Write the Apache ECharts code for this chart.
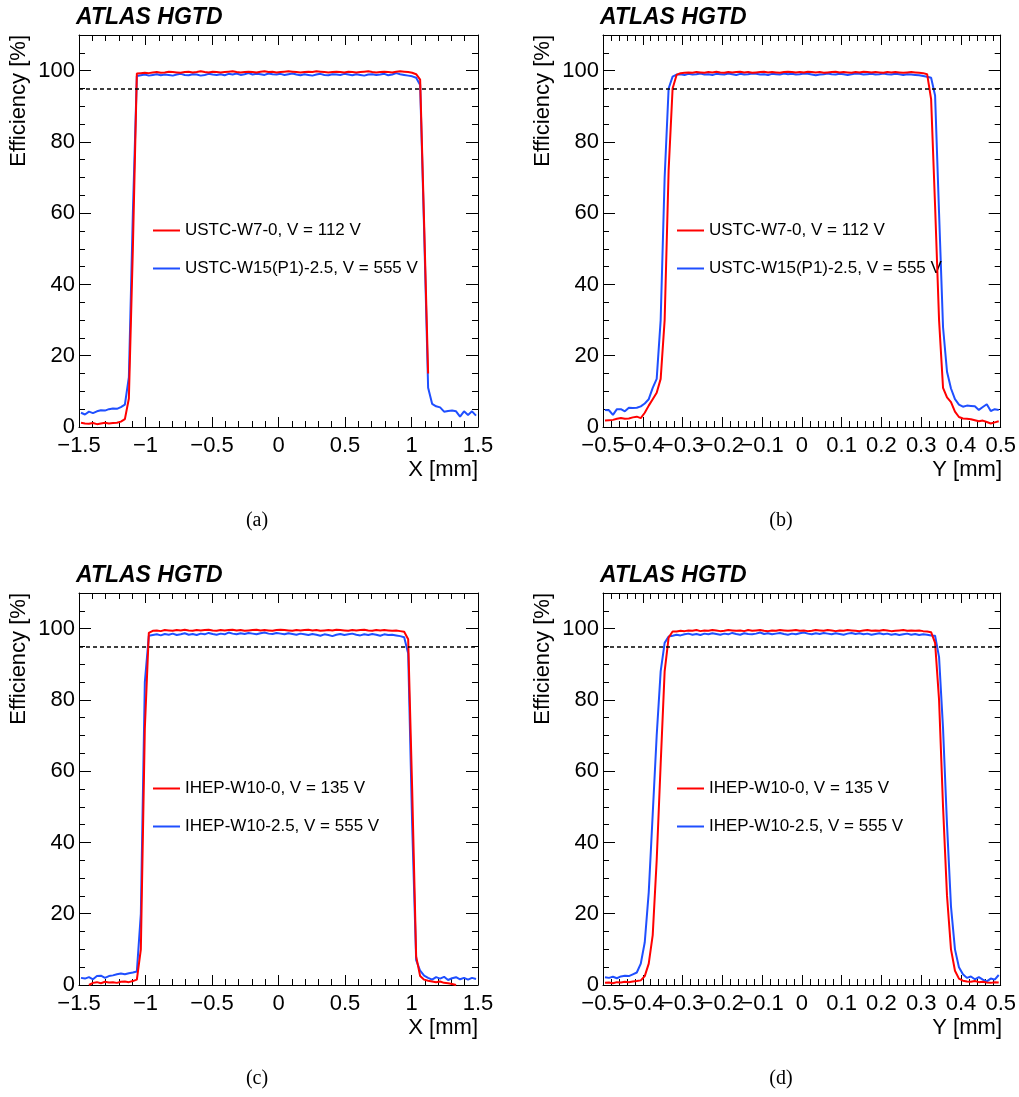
<!DOCTYPE html>
<html>
<head>
<meta charset="utf-8">
<title>HGTD efficiency profiles</title>
<script src="https://cdn.jsdelivr.net/npm/echarts@6/dist/echarts.min.js"></script>
<style>
  html, body { margin: 0; padding: 0; background: #fff; }
  #chart { width: 1019px; height: 1097px; }
</style>
</head>
<body>
<div id="chart"></div>
<script>
// bin centres: X scans 0.03 mm bins, Y scans 0.01 mm bins
const binsX = Array.from({ length: 100 }, (_, i) => -1.485 + 0.03 * i);
const binsY = Array.from({ length: 100 }, (_, i) => -0.495 + 0.01 * i);

const namesUSTC = ['USTC-W7-0, V = 112 V', 'USTC-W15(P1)-2.5, V = 555 V'];
const namesIHEP = ['IHEP-W10-0, V = 135 V', 'IHEP-W10-2.5, V = 555 V'];
const yTickLabels = [0, 20, 40, 60, 80, 100];

// (a) X profile, USTC
const redA = [
  1.2,1.0,0.9,1.1,0.8,1.0,1.2,1.0,1.1,1.2,1.5,2.2,
  8,50,99.2,
  99.3,99.4,99.3,99.5,99.6,99.4,99.5,99.7,99.6,99.5,
  99.4,99.6,99.7,99.5,99.6,99.8,99.6,99.5,99.7,99.6,
  99.5,99.6,99.7,99.8,99.6,99.5,99.6,99.7,99.6,99.5,
  99.7,99.8,99.6,99.7,99.5,99.6,99.7,99.8,99.7,99.6,
  99.5,99.6,99.7,99.6,99.8,99.7,99.6,99.5,99.6,99.7,
  99.6,99.5,99.7,99.6,99.5,99.6,99.7,99.8,99.6,99.5,
  99.6,99.7,99.6,99.5,99.7,99.8,99.7,99.6,99.4,99.0,
  97.5,57,15,
  null,null,null,null,null,null,null,null,null,null,null,null
];
const blueA = [
  4.0,3.5,4.3,3.9,4.4,4.7,4.6,5.0,5.2,5.1,5.6,6.3,
  14,60,98.5,
  98.7,98.9,98.6,98.8,99.0,98.7,98.9,98.8,98.6,98.9,
  99.1,98.8,98.7,99.0,98.9,98.6,98.8,99.1,98.9,98.8,
  99.0,98.7,99.1,98.9,99.2,98.8,99.0,99.3,98.9,99.1,
  99.0,98.8,99.2,99.0,98.9,99.1,98.8,99.0,99.2,98.9,
  98.7,99.0,98.8,98.6,98.9,99.1,98.8,98.7,99.0,98.9,
  98.8,99.1,98.9,98.7,99.0,98.8,98.6,98.9,99.0,98.8,
  98.9,99.1,98.7,98.9,99.3,99.0,98.8,98.6,98.4,98.0,
  96,55,11,
  6.5,5.8,5.5,4.3,4.5,4.6,4.4,2.9,4.4,3.4,4.4,3.2
];

// (b) Y profile, USTC
const redB = [
  1.8,1.9,2.0,2.3,2.5,2.3,2.4,2.7,2.9,2.5,4.0,6.0,7.8,9.6,13.5,
  30,72,95,98.8,
  99.3,99.4,99.5,99.4,99.6,99.5,99.4,99.6,99.5,99.7,
  99.5,99.4,99.6,99.5,99.6,99.7,99.5,99.6,99.4,99.5,
  99.6,99.7,99.5,99.6,99.5,99.4,99.6,99.7,99.6,99.5,
  99.6,99.5,99.7,99.6,99.5,99.6,99.4,99.5,99.6,99.7,
  99.5,99.6,99.5,99.4,99.6,99.5,99.7,99.6,99.5,99.6,
  99.5,99.4,99.6,99.5,99.6,99.5,99.4,99.5,99.6,99.5,
  99.4,99.3,99.0,
  92,62,30,11,8.3,7.0,4.3,2.8,
  2.4,2.3,2.2,1.9,1.6,1.8,1.4,1.0,1.3,1.6
];
const blueB = [
  4.8,4.7,3.4,5.0,5.0,4.4,5.4,5.3,5.4,5.8,6.6,7.8,11.0,13.5,
  30,70,95,98.3,
  98.9,99.0,98.8,99.1,98.9,99.0,99.2,98.9,99.0,98.8,
  99.1,99.0,98.9,99.2,99.0,98.8,99.1,98.9,99.0,99.2,
  99.1,98.9,99.0,98.8,99.1,99.0,98.9,99.2,99.0,99.1,
  98.9,99.0,99.2,99.1,98.9,98.7,98.9,99.0,99.2,99.0,
  98.9,99.1,99.0,98.8,99.0,99.2,99.1,98.9,99.0,99.1,
  98.9,99.0,99.2,99.0,98.9,99.1,99.0,98.8,99.0,98.9,
  98.8,98.7,98.5,98.3,
  98,93,60,28,15.5,10.8,7.8,6.3,
  5.7,6.0,5.9,5.8,4.8,5.6,6.4,4.5,5.0,4.8
];

// (c) X profile, IHEP
const redC = [
  null,null,0,0.6,0.8,0.5,0.9,0.7,0.8,0.6,0.9,1.0,0.8,1.1,1.5,
  10,72,98.8,
  99.4,99.5,99.3,99.6,99.5,99.4,99.6,99.5,99.7,99.5,
  99.4,99.6,99.5,99.6,99.7,99.5,99.4,99.6,99.5,99.6,
  99.7,99.5,99.6,99.4,99.5,99.6,99.7,99.5,99.6,99.5,
  99.4,99.6,99.7,99.6,99.5,99.4,99.6,99.5,99.6,99.7,
  99.5,99.6,99.4,99.5,99.6,99.5,99.7,99.6,99.5,99.4,
  99.6,99.5,99.6,99.7,99.5,99.4,99.6,99.5,99.6,99.5,
  99.4,99.5,99.3,99.1,
  97,55,8,2.5,1.5,1.2,1.0,0.8,1.0,0.6,0.5,0.3,0,
  null,null,null,null,null
];
const blueC = [
  2.0,1.8,2.2,1.6,2.5,2.6,2.0,2.5,2.7,3.0,3.2,3.0,3.3,3.5,
  3.8,20,85,98,
  98.2,98.4,98.1,98.5,98.3,98.6,98.2,98.4,98.7,98.3,
  98.5,98.2,98.6,98.4,98.8,98.5,98.3,98.6,98.4,98.9,
  98.6,98.4,98.7,98.5,98.8,98.6,98.4,98.7,98.9,98.6,
  98.5,98.8,98.6,98.4,98.7,98.5,98.3,98.6,98.4,98.2,
  98.5,98.3,98.0,98.4,98.2,97.9,98.3,98.5,98.2,98.4,
  98.6,98.3,98.1,98.4,98.2,98.5,98.3,98.0,98.4,98.2,
  98.3,98.1,97.9,97.6,
  93,45,7,4.0,2.6,
  2.0,1.5,2.2,1.8,2.3,1.4,1.9,2.2,1.6,2.0,1.5,2.0,1.7
];

// (d) Y profile, IHEP
const redD = [
  0.6,0.7,0.5,0.8,0.7,0.9,0.8,1.0,1.1,1.3,
  2.5,6,14,35,62,88,97.5,99.2,
  99.2,99.4,99.3,99.5,99.4,99.6,99.3,99.5,99.4,99.6,
  99.5,99.3,99.4,99.6,99.5,99.4,99.5,99.3,99.6,99.4,
  99.5,99.6,99.4,99.3,99.5,99.4,99.6,99.5,99.4,99.5,
  99.6,99.4,99.5,99.3,99.4,99.6,99.5,99.4,99.6,99.5,
  99.3,99.5,99.4,99.6,99.5,99.4,99.3,99.5,99.6,99.4,
  99.5,99.4,99.6,99.5,99.3,99.4,99.5,99.6,99.4,99.5,
  99.4,99.5,99.3,99.2,99.0,
  96,80,50,25,10,4,1.8,
  1.2,1.0,0.9,1.1,0.8,0.9,0.7,0.6,0.8,0.7
];
const blueD = [
  2.2,2.0,2.3,1.9,2.4,2.6,2.5,3.0,
  3.5,6,12,26,48,70,88,96,97.8,
  98.0,98.3,98.1,98.4,98.6,98.3,98.5,98.2,98.6,98.4,
  98.7,98.5,98.3,98.6,98.4,98.8,98.5,98.3,98.7,98.5,
  98.4,98.6,98.9,98.5,98.7,98.4,98.6,98.8,98.5,98.3,
  98.6,98.4,98.7,98.9,98.6,98.4,98.7,98.5,98.8,98.6,
  98.4,98.7,98.5,98.3,98.6,98.8,98.5,98.7,98.4,98.6,
  98.3,98.5,98.7,98.4,98.6,98.3,98.5,98.2,98.4,98.6,
  98.3,98.5,98.2,98.4,98.3,98.1,98.0,
  92,72,45,22,10,5,3.0,
  2.0,2.4,1.6,2.2,1.5,1.0,1.8,1.5,2.8
];

const FONT = 'Liberation Sans';
const RED = '#ff0000';
const BLUE = '#1f4fff';
const W = 399, H = 392;

const panels = [
  { left: 79,  top: 35,  bins: binsX, red: redA, blue: blueA, xMin: -1.5, xMax: 1.5, xStep: 0.5, xTitle: 'X [mm]', names: namesUSTC, caption: '(a)' },
  { left: 603, top: 35,  bins: binsY, red: redB, blue: blueB, xMin: -0.5, xMax: 0.5, xStep: 0.1, xTitle: 'Y [mm]', names: namesUSTC, caption: '(b)' },
  { left: 79,  top: 593, bins: binsX, red: redC, blue: blueC, xMin: -1.5, xMax: 1.5, xStep: 0.5, xTitle: 'X [mm]', names: namesIHEP, caption: '(c)' },
  { left: 603, top: 593, bins: binsY, red: redD, blue: blueD, xMin: -0.5, xMax: 0.5, xStep: 0.1, xTitle: 'Y [mm]', names: namesIHEP, caption: '(d)' }
];

const fmtTick = v => {
  const r = Math.round(v * 10) / 10;
  return r < 0 ? '\u2212' + Math.abs(r) : String(r);
};
const pairs = (xs, ys) => xs.map((x, i) => [x, ys[i]]).filter(p => p[1] !== null);

const frameLine = { show: true, onZero: false, lineStyle: { color: '#000', width: 1 } };
const noLine = { show: false, onZero: false };
const labelStyle = { color: '#000', fontFamily: FONT, fontSize: 22, hideOverlap: false };

const grid = [], xAxis = [], yAxis = [], series = [], legend = [], graphic = [];

panels.forEach((p, k) => {
  grid.push({ left: p.left, top: p.top, width: W, height: H, containLabel: false });

  // the crowded Y scans: echarts drops the label next to a forced min label,
  // so the min label is written separately below
  const crowded = p.xStep < 0.5;

  // bottom (labelled) and top x axes
  ['bottom', 'top'].forEach(pos => {
    xAxis.push({
      type: 'value', gridIndex: k, position: pos,
      min: p.xMin, max: p.xMax, interval: p.xStep,
      axisLine: frameLine,
      axisTick: { show: true, inside: true, length: 10, lineStyle: { color: '#000' } },
      minorTick: { show: true, splitNumber: 5, length: 6, lineStyle: { color: '#000' } },
      axisLabel: pos === 'bottom'
        ? { ...labelStyle, margin: 8, showMinLabel: true, showMaxLabel: true,
            formatter: v => (crowded && Math.abs(v - p.xMin) < 1e-9 ? '' : fmtTick(v)) }
        : { show: false },
      splitLine: { show: false }
    });
  });

  // left/right major y axes, then minor-tick y axes every 5 %
  ['left', 'right'].forEach(pos => {
    yAxis.push({
      type: 'value', gridIndex: k, position: pos,
      min: 0, max: 110, interval: 20,
      axisLine: frameLine,
      axisTick: { show: true, inside: true, length: 12, lineStyle: { color: '#000' } },
      axisLabel: pos === 'left'
        ? { ...labelStyle, margin: 4, showMaxLabel: false,
            formatter: v => (yTickLabels.includes(v) ? String(v) : '') }
        : { show: false },
      splitLine: { show: false }
    });
  });
  ['left', 'right'].forEach(pos => {
    yAxis.push({
      type: 'value', gridIndex: k, position: pos,
      min: 0, max: 110, interval: 5,
      axisLine: noLine,
      axisTick: { show: true, inside: true, length: 6, lineStyle: { color: '#000' } },
      axisLabel: { show: false },
      splitLine: { show: false }
    });
  });

  series.push({
    name: p.names[1], type: 'line', xAxisIndex: 2 * k, yAxisIndex: 4 * k,
    data: pairs(p.bins, p.blue), symbol: 'none', color: BLUE,
    lineStyle: { color: BLUE, width: 2 }, z: 3,
    markLine: {
      silent: true, symbol: ['none', 'none'], label: { show: false },
      lineStyle: { color: '#000', type: [4, 3], width: 1.5 },
      data: [{ yAxis: 95 }]
    }
  });
  series.push({
    name: p.names[0], type: 'line', xAxisIndex: 2 * k, yAxisIndex: 4 * k,
    data: pairs(p.bins, p.red), symbol: 'none', color: RED,
    lineStyle: { color: RED, width: 2 }, z: 4
  });

  legend.push({
    orient: 'vertical', left: p.left + 74, top: p.top + 187,
    padding: 0, icon: 'rect', itemWidth: 27, itemHeight: 2, itemGap: 21,
    selectedMode: false, data: [p.names[0], p.names[1]],
    textStyle: { color: '#000', fontFamily: FONT, fontSize: 17, lineHeight: 17 }
  });

  graphic.push(
    { type: 'text', x: p.left - 3, y: p.top - 29,
      style: { text: 'ATLAS HGTD', font: 'italic bold 23px ' + FONT, fill: '#000',
               align: 'left', verticalAlign: 'top' } },
    { type: 'text', x: p.left - 60, y: p.top, rotation: Math.PI / 2,
      style: { text: 'Efficiency [%]', font: '22px ' + FONT, fill: '#000',
               align: 'right', verticalAlign: 'middle' } },
    { type: 'text', x: p.left + W, y: p.top + H + 32,
      style: { text: p.xTitle, font: '22px ' + FONT, fill: '#000',
               align: 'right', verticalAlign: 'top' } },
    { type: 'text', x: p.left + 178, y: p.top + H + 94,
      style: { text: p.caption, font: '20px Liberation Serif', fill: '#000',
               align: 'center', verticalAlign: 'middle' } }
  );
  if (crowded) {
    graphic.push({ type: 'text', x: p.left, y: p.top + H + 8,
      style: { text: fmtTick(p.xMin), font: '22px ' + FONT, fill: '#000',
               align: 'center', verticalAlign: 'top' } });
  }
});

const chart = echarts.init(document.getElementById('chart'));
chart.setOption({
  animation: false,
  backgroundColor: '#fff',
  grid, xAxis, yAxis, series, legend, graphic
});
window.addEventListener('resize', () => chart.resize());
</script>
</body>
</html>
